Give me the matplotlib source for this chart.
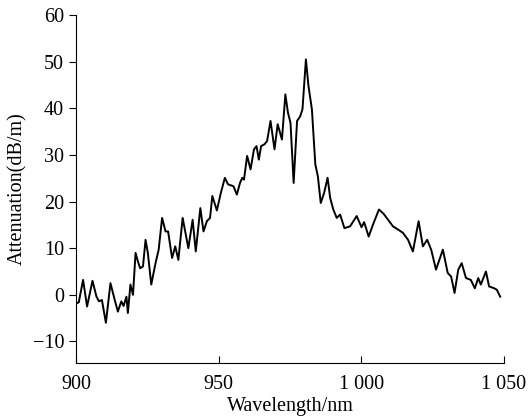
#
# plot.py
#

import numpy as np

import matplotlib
matplotlib.use('Agg')
import matplotlib.pyplot as plt
from matplotlib.ticker import FuncFormatter

plt.rcParams['font.family'] = ['Liberation Serif', 'DejaVu Serif']

# Spectrum
wavelength = [
    900.2, 901.0, 902.5, 903.9, 905.8, 907.2, 908.1, 909.1, 910.5, 912.1,
    913.6, 914.7, 915.9, 916.7, 917.7, 918.2, 919.1, 920.0, 920.9, 921.7,
    922.5, 923.5, 924.4, 925.2, 926.4, 927.9, 929.0, 930.2, 931.4, 932.3,
    933.7, 934.8, 935.9, 937.4, 939.4, 940.9, 942.0, 943.6, 944.7, 945.9,
    947.0, 947.8, 949.4, 950.8, 952.2, 953.3, 955.2, 956.4, 957.5, 958.3,
    958.9, 960.0, 961.2, 962.4, 963.3, 964.1, 964.9, 966.1, 967.0, 968.2,
    969.6, 970.7, 972.2, 973.4, 974.3, 975.2, 976.3, 977.5, 978.6, 979.4,
    980.6, 981.5, 982.7, 983.9, 984.8, 985.8, 987.0, 988.2, 989.1, 990.2,
    991.4, 992.6, 994.1, 996.1, 998.4, 1000.1, 1001.0, 1002.6, 1004.2, 1006.2,
    1007.8, 1009.4, 1011.1, 1012.9, 1014.6, 1016.4, 1018.1, 1020.1, 1021.6, 1023.1,
    1024.5, 1026.2, 1028.6, 1030.3, 1031.5, 1032.7, 1034.0, 1035.2, 1036.7, 1038.4,
    1039.8, 1041.0, 1041.9, 1043.7, 1044.8, 1046.6, 1047.5, 1048.7,
]
attenuation = [
    -1.8, -1.6, 3.2, -2.5, 3.0, -0.4, -1.4, -1.1, -6.0, 2.5,
    -1.1, -3.6, -1.4, -2.4, -0.4, -3.9, 2.2, 0.0, 9.0, 7.2,
    5.7, 6.1, 11.8, 9.0, 2.2, 6.8, 9.7, 16.5, 13.6, 13.6,
    7.9, 10.4, 7.5, 16.5, 10.0, 16.1, 9.3, 18.6, 13.6, 15.8,
    16.5, 21.2, 18.1, 21.9, 25.1, 23.7, 23.3, 21.5, 24.0, 25.1,
    24.7, 29.8, 26.9, 31.2, 31.9, 29.0, 31.9, 32.3, 33.0, 37.3,
    31.2, 36.6, 33.3, 43.0, 39.1, 36.9, 24.0, 37.3, 38.3, 39.8,
    50.5, 44.8, 39.8, 28.0, 25.4, 19.7, 21.9, 25.1, 20.8, 18.3,
    16.5, 17.2, 14.3, 14.7, 16.9, 14.5, 15.6, 12.5, 15.2, 18.3,
    17.4, 16.1, 14.7, 14.0, 13.3, 11.8, 9.3, 15.8, 10.4, 11.8,
    9.7, 5.4, 9.7, 4.7, 3.9, 0.4, 5.4, 6.8, 3.6, 3.2,
    1.4, 3.6, 2.2, 5.0, 1.8, 1.4, 1.1, -0.4,
]

x_ticks = [900, 950, 1000, 1050]
y_ticks = [-10, 0, 10, 20, 30, 40, 50, 60]


def thousands(v, pos):
    # the paper groups thousands with a space
    s = '{:d}'.format(int(round(v)))
    if len(s) > 3:
        s = s[:-3] + ' ' + s[-3:]
    return s


fig = plt.figure(figsize=(5.31, 4.2), dpi=100)
ax = fig.add_axes([0.143, 0.136, 0.806, 0.828])

ax.plot(wavelength, attenuation, color='black', linewidth=1.4)

ax.set_xlim(900, 1050)
ax.set_ylim(-14.6, 60)
ax.set_xticks(x_ticks)
ax.set_yticks(y_ticks)
ax.xaxis.set_major_formatter(FuncFormatter(thousands))

ax.spines['top'].set_visible(False)
ax.spines['right'].set_visible(False)
ax.tick_params(axis='x', direction='in', length=5, labelsize=14.5, pad=9)
ax.tick_params(axis='y', direction='out', length=5, labelsize=14.5)

ax.set_xlabel('Wavelength/nm', fontsize=14.5, labelpad=2)
ax.set_ylabel('Attenuation(dB/m)', fontsize=14.5, labelpad=4)

fig.savefig('out.png', dpi=100)
